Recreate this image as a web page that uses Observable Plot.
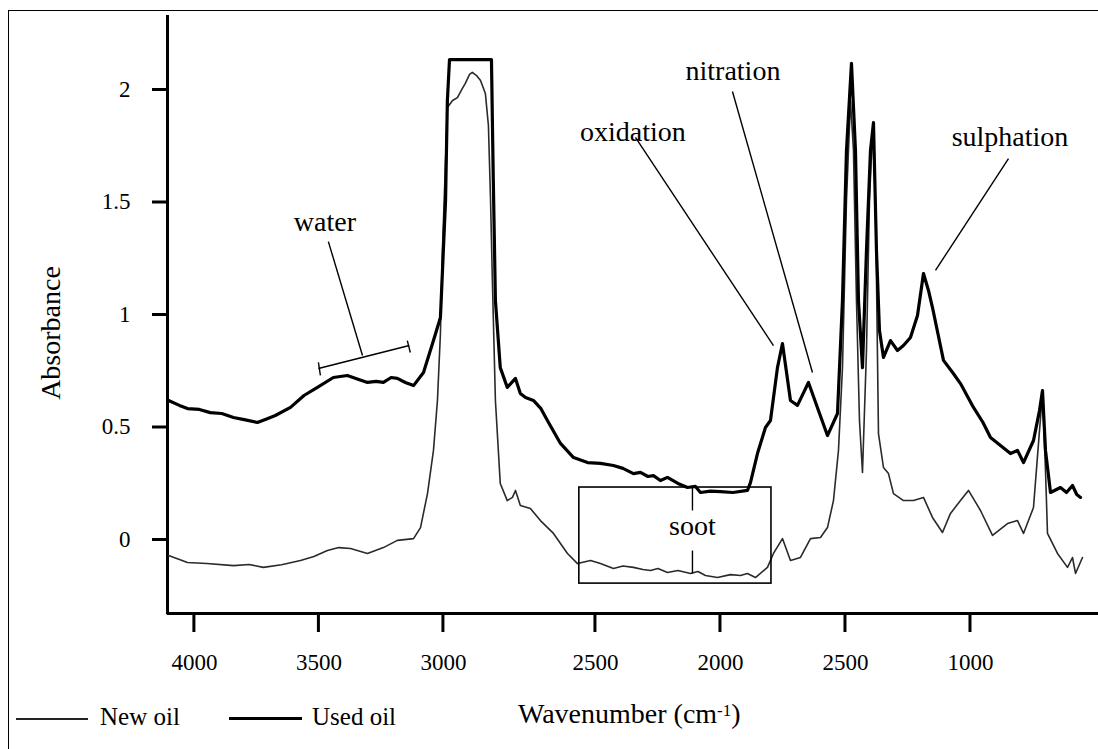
<!DOCTYPE html>
<html>
<head>
<meta charset="utf-8">
<script src="https://cdn.jsdelivr.net/npm/d3@7"></script>
<script src="https://cdn.jsdelivr.net/npm/@observablehq/plot@0.6"></script>
<style>
  html, body { margin: 0; padding: 0; background: #fff; }
  #wrap { position: relative; width: 1098px; height: 749px; overflow: hidden; font-family: "Liberation Serif", "Times New Roman", serif; color: #000; }
  #frame { position: absolute; left: 8px; top: 10px; right: -10px; bottom: -10px; border-top: 1.5px solid #000; border-left: 1.5px solid #000; pointer-events: none; }
  #chart svg { display: block; }
  #row { position: relative; height: 53px; }
  .lg-line { position: absolute; background: #000; }
  .lg-text { position: absolute; font-size: 25px; line-height: 25px; white-space: nowrap; }
  #xtitle { position: absolute; left: 518px; top: 4px; font-size: 28px; line-height: 28px; white-space: nowrap; }
  #xtitle sup { font-size: 17px; position: relative; top: -3px; vertical-align: top; }
</style>
</head>
<body>
<div id="wrap">
  <div id="chart"></div>
  <div id="row">
    <div class="lg-line" style="left:16px;top:22px;width:72px;height:1.5px;background:#222"></div>
    <div class="lg-text" style="left:100px;top:8px">New oil</div>
    <div class="lg-line" style="left:229px;top:21px;width:73px;height:3px"></div>
    <div class="lg-text" style="left:312px;top:8px">Used oil</div>
    <div id="xtitle">Wavenumber (cm<sup>-1</sup>)</div>
  </div>
  <div id="frame"></div>
</div>
<script>
// ---------- data ----------
const wnUsed = [4104,4060,4028,3980,3936,3890,3843,3800,3747,3710,3675,3614,3560,3506,3442,3386,3340,3305,3270,3241,3210,3185,3153,3120,3080,3040,3012,2993,2987,2980,2842,2836,2829,2813,2790,2763,2747,2730,2704,2680,2658,2615,2572,2526,2480,2428,2390,2348,2320,2290,2268,2240,2212,2170,2132,2100,2080,2040,2000,1950,1892,1880,1852,1820,1800,1772,1752,1720,1692,1648,1608,1572,1532,1512,1496,1476,1460,1448,1432,1416,1400,1388,1376,1364,1348,1320,1292,1268,1240,1212,1188,1168,1152,1108,1070,1040,988,950,920,880,840,812,788,748,724,712,700,680,640,616,592,575,560];
const absUsed = [0.618,0.596,0.582,0.578,0.564,0.56,0.542,0.533,0.52,0.536,0.551,0.587,0.64,0.676,0.72,0.729,0.711,0.698,0.703,0.698,0.72,0.716,0.698,0.684,0.742,0.884,0.987,1.507,1.95,2.133,2.133,1.6,1.062,0.764,0.676,0.716,0.649,0.631,0.618,0.583,0.529,0.427,0.364,0.342,0.338,0.329,0.316,0.293,0.298,0.28,0.284,0.262,0.276,0.249,0.231,0.236,0.209,0.215,0.213,0.209,0.218,0.253,0.382,0.498,0.529,0.764,0.871,0.618,0.596,0.698,0.573,0.462,0.56,1.062,1.729,2.116,1.729,1.062,0.764,1.284,1.729,1.853,1.284,0.929,0.809,0.884,0.84,0.862,0.898,0.996,1.182,1.107,1.031,0.796,0.74,0.693,0.587,0.52,0.453,0.418,0.382,0.396,0.342,0.44,0.573,0.662,0.396,0.209,0.231,0.209,0.24,0.2,0.187];

const wnNew = [4104,4060,4028,3950,3843,3780,3723,3650,3574,3520,3466,3420,3373,3305,3241,3185,3120,3092,3064,3040,3024,3012,3004,2993,2987,2970,2954,2938,2928,2914,2905,2891,2878,2862,2852,2845,2839,2829,2813,2790,2773,2763,2747,2714,2681,2638,2592,2559,2516,2480,2428,2390,2348,2310,2280,2250,2212,2170,2120,2090,2060,2012,1960,1920,1892,1860,1812,1788,1752,1720,1680,1640,1600,1572,1548,1528,1512,1496,1480,1468,1456,1444,1432,1416,1404,1392,1380,1368,1348,1328,1308,1268,1228,1188,1152,1112,1080,1040,1008,960,912,852,812,788,748,724,712,700,692,652,612,592,580,552];
const absNew = [-0.071,-0.089,-0.102,-0.107,-0.116,-0.111,-0.124,-0.112,-0.093,-0.076,-0.049,-0.036,-0.04,-0.062,-0.036,-0.004,0.004,0.053,0.204,0.396,0.618,0.916,1.284,1.684,1.92,1.951,1.964,2.004,2.027,2.067,2.076,2.062,2.04,1.982,1.84,1.507,1.151,0.618,0.249,0.173,0.187,0.218,0.151,0.138,0.084,0.027,-0.062,-0.107,-0.093,-0.107,-0.129,-0.118,-0.124,-0.133,-0.138,-0.129,-0.147,-0.138,-0.151,-0.142,-0.16,-0.169,-0.156,-0.16,-0.151,-0.169,-0.124,-0.062,0.004,-0.093,-0.08,0.004,0.009,0.053,0.173,0.396,0.764,1.507,1.951,1.729,1.062,0.529,0.298,0.84,1.507,1.818,1.507,0.471,0.32,0.293,0.204,0.173,0.173,0.187,0.098,0.031,0.116,0.173,0.218,0.129,0.018,0.071,0.084,0.027,0.142,0.484,0.649,0.307,0.027,-0.062,-0.124,-0.08,-0.151,-0.08];

const xTicks = [4000, 3500, 3000, 2500, 2000, 1500, 1000];
const xTickLabels = ["4000", "3500", "3000", "2500", "2000", "2500", "1000"];
const yTicks = [0, 0.5, 1, 1.5, 2];
const yTickLabels = ["0", "0.5", "1", "1.5", "2"];

const annotLabels = ["water", "oxidation", "nitration", "sulphation", "soot"];
const annotWn = [3476, 2350, 1950, 842, 2112];
const annotAbs = [1.413, 1.813, 2.08, 1.787, 0.058];

// leader lines / bracket: [wn1, abs1] -> [wn2, abs2]
const leaderWn1 = [3462, 2340, 1952, 848, 3502, 3502, 3145, 2112, 2112];
const leaderAbs1 = [1.324, 1.787, 1.991, 1.693, 0.76, 0.787, 0.884, 0.231, -0.049];
const leaderWn2 = [3325, 1788, 1632, 1140, 3137, 3494, 3133, 2112, 2112];
const leaderAbs2 = [0.818, 0.862, 0.742, 1.196, 0.862, 0.729, 0.831, 0.129, -0.151];

const sootBoxWn = [2553, 1796];
const sootBoxAbs = [-0.196, 0.231];

// ---------- axis warp ----------
// The original axis is not uniform in wavenumber (the 3000–2500 span is wider),
// so wavenumbers are mapped piecewise onto the linear x scale.
const xWarp = d3.scaleLinear().domain([4000, 3000, 2500, 2000, 1000]).range([0, 249, 401, 526, 776]);
const wnMax = 4108, wnMin = 488;
const absMin = -0.3289, absMax = 2.3289;
const tickDepth = 19 / 225; // tick length below the axis line, in absorbance units

// ---------- tables ----------
const usedOil = wnUsed.map((w, i) => ({x: xWarp(w), a: absUsed[i]}));
const newOil = wnNew.map((w, i) => ({x: xWarp(w), a: absNew[i]}));
const annots = annotLabels.map((t, i) => ({t, x: xWarp(annotWn[i]), a: annotAbs[i]}));
const leaders = leaderWn1.map((w, i) => ({x1: xWarp(w), a1: leaderAbs1[i], x2: xWarp(leaderWn2[i]), a2: leaderAbs2[i]}));
const sootBox = [{x1: xWarp(sootBoxWn[0]), x2: xWarp(sootBoxWn[1]), y1: sootBoxAbs[0], y2: sootBoxAbs[1]}];
const xTickPos = xTicks.map(xWarp);
const xTickMarks = xTickPos.map(p => ({x1: p - 1.5, x2: p + 1.5, y1: absMin - tickDepth, y2: absMin}));
const xLabel = new Map(xTickPos.map((p, i) => [p, xTickLabels[i]]));
const yLabel = new Map(yTicks.map((t, i) => [t, yTickLabels[i]]));

const chart = Plot.plot({
  width: 1098,
  height: 696,
  marginLeft: 167,
  marginRight: 0,
  marginTop: 15,
  marginBottom: 64,
  style: {fontFamily: "'Liberation Serif', 'Times New Roman', serif", background: "transparent", color: "#000", overflow: "visible"},
  x: {domain: [xWarp(wnMax), xWarp(wnMin)]},
  y: {domain: [absMin - tickDepth, absMax]},
  marks: [
    Plot.axisX({ticks: xTickPos, tickFormat: d => xLabel.get(d), tickSize: 0, tickPadding: 21, fontSize: 23, label: null}),
    Plot.rect(xTickMarks, {x1: "x1", x2: "x2", y1: "y1", y2: "y2", fill: "#000"}),
    Plot.axisY({ticks: yTicks, tickFormat: d => yLabel.get(d), tickSize: 15, tickPadding: 22, fontSize: 23, strokeWidth: 3, label: null}),
    Plot.ruleX([xWarp(wnMax)], {y1: absMin - 0.006, y2: absMax, strokeWidth: 3}),
    Plot.ruleY([absMin], {strokeWidth: 3}),
    Plot.line(newOil, {x: "x", y: "a", stroke: "#2a2a2a", strokeWidth: 1.6}),
    Plot.line(usedOil, {x: "x", y: "a", stroke: "#000", strokeWidth: 3.2, strokeLinejoin: "round"}),
    Plot.rect(sootBox, {x1: "x1", x2: "x2", y1: "y1", y2: "y2", fill: "none", stroke: "#000", strokeWidth: 1.6}),
    Plot.link(leaders, {x1: "x1", y1: "a1", x2: "x2", y2: "a2", stroke: "#000", strokeWidth: 1.4}),
    Plot.text(annots, {x: "x", y: "a", text: "t", fontSize: 28, fill: "#000"}),
    Plot.text(["Absorbance"], {frameAnchor: "left", textAnchor: "middle", rotate: -90, dx: -116, dy: 9, fontSize: 28, fill: "#000"})
  ]
});
document.getElementById("chart").appendChild(chart);
</script>
</body>
</html>
